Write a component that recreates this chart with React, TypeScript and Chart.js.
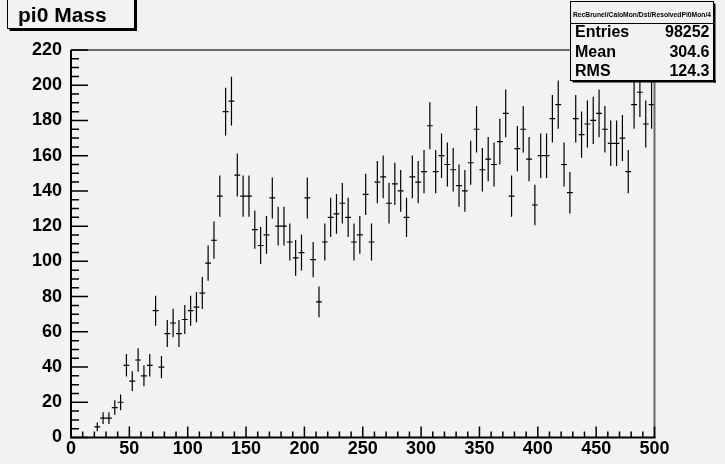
import React, { useEffect, useRef } from "react";
import { Chart, registerables } from "chart.js";

Chart.register(...registerables);

// Histogram "pi0 Mass": bin centres (bin width 5) and contents
const binWidth = 5;
const binCenters = [
  22.5, 27.5, 32.5, 37.5, 42.5, 47.5, 52.5, 57.5, 62.5, 67.5,
  72.5, 77.5, 82.5, 87.5, 92.5, 97.5, 102.5, 107.5, 112.5, 117.5,
  122.5, 127.5, 132.5, 137.5, 142.5, 147.5, 152.5, 157.5, 162.5, 167.5,
  172.5, 177.5, 182.5, 187.5, 192.5, 197.5, 202.5, 207.5, 212.5, 217.5,
  222.5, 227.5, 232.5, 237.5, 242.5, 247.5, 252.5, 257.5, 262.5, 267.5,
  272.5, 277.5, 282.5, 287.5, 292.5, 297.5, 302.5, 307.5, 312.5, 317.5,
  322.5, 327.5, 332.5, 337.5, 342.5, 347.5, 352.5, 357.5, 362.5, 367.5,
  372.5, 377.5, 382.5, 387.5, 392.5, 397.5, 402.5, 407.5, 412.5, 417.5,
  422.5, 427.5, 432.5, 437.5, 442.5, 447.5, 452.5, 457.5, 462.5, 467.5,
  472.5, 477.5, 482.5, 487.5, 492.5, 497.5,
];
const binContents = [
  6, 11, 11, 17, 20, 41, 32, 44, 35, 41,
  72, 40, 59, 65, 59, 67, 72, 74, 82, 99,
  112, 137, 185, 191, 149, 137, 137, 118, 109, 115,
  136, 120, 120, 111, 102, 105, 136, 101, 77, 111,
  125, 127, 133, 125, 111, 115, 138, 111, 145, 148,
  133, 144, 140, 125, 148, 145, 151, 177, 151, 160,
  155, 152, 143, 140, 156, 175, 152, 158, 155, 168,
  184, 137, 164, 175, 158, 132, 160, 160, 181, 189,
  155, 139, 181, 172, 178, 180, 184, 175, 167, 167,
  170, 151, 189, 196, 178, 189,
];

// Axis ranges and tick steps
const xMin = 0;
const xMax = 500;
const yMin = 0;
const yMax = 220;
const xMajorStep = 50;
const xMinorStep = 10;
const yMajorStep = 20;
const yMinorStep = 5;

// Title and statistics box contents
const histTitle = "pi0 Mass";
const statsHeader = "RecBrunel/CaloMon/Dst/ResolvedPi0Mon/4";
const statsLabels = ["Entries", "Mean", "RMS"];
const statsValues = ["98252", "304.6", "124.3"];

const BG = "#f2f2f2";
const FONT = "'Liberation Sans', Arial, Helvetica, sans-serif";

const rootStylePlugin = {
  id: "rootStyle",
  afterDatasetsDraw(chart: any) {
    const { ctx, chartArea, scales } = chart;
    const xs = scales.x;
    const ys = scales.y;
    const { left, right, top, bottom } = chartArea;

    ctx.save();

    // error crosses: horizontal bar spans the bin, vertical bar is sqrt(N)
    ctx.strokeStyle = "#000";
    ctx.lineWidth = 1.2;
    ctx.beginPath();
    binCenters.forEach((xc, i) => {
      const n = binContents[i];
      const err = Math.sqrt(n);
      const px = xs.getPixelForValue(xc);
      const pxL = xs.getPixelForValue(xc - binWidth / 2);
      const pxR = xs.getPixelForValue(xc + binWidth / 2);
      const py = ys.getPixelForValue(n);
      const pyT = Math.max(ys.getPixelForValue(n + err), top);
      const pyB = ys.getPixelForValue(n - err);
      ctx.moveTo(pxL, py);
      ctx.lineTo(pxR, py);
      ctx.moveTo(px, pyT);
      ctx.lineTo(px, pyB);
    });
    ctx.stroke();

    // frame: top and right in grey
    ctx.strokeStyle = "#6a6a6a";
    ctx.lineWidth = 2;
    ctx.beginPath();
    ctx.moveTo(left, top);
    ctx.lineTo(right, top);
    ctx.lineTo(right, bottom);
    ctx.stroke();

    // axes: left and bottom in black
    ctx.strokeStyle = "#000";
    ctx.lineWidth = 2;
    ctx.beginPath();
    ctx.moveTo(left, top);
    ctx.lineTo(left, bottom);
    ctx.lineTo(right + 1, bottom);
    ctx.stroke();

    // ticks pointing inwards
    ctx.lineWidth = 1.5;
    ctx.beginPath();
    for (let v = xMin; v <= xMax; v += xMinorStep) {
      const px = xs.getPixelForValue(v);
      const len = v % xMajorStep === 0 ? 11 : 6;
      ctx.moveTo(px, bottom);
      ctx.lineTo(px, bottom - len);
    }
    for (let v = yMin; v <= yMax; v += yMinorStep) {
      const py = ys.getPixelForValue(v);
      const len = v % yMajorStep === 0 ? 17 : 8;
      ctx.moveTo(left, py);
      ctx.lineTo(left + len, py);
    }
    ctx.stroke();

    ctx.restore();
  },
  afterDraw(chart: any) {
    const { ctx } = chart;
    ctx.save();

    // title box
    const tL = 7.5, tR = 134.5, tT = -2, tB = 28.5;
    ctx.fillStyle = BG;
    ctx.fillRect(tL, tT, tR - tL, tB - tT);
    ctx.strokeStyle = "#000";
    ctx.lineWidth = 1;
    ctx.strokeRect(tL, tT, tR - tL, tB - tT);
    ctx.fillStyle = "#000";
    ctx.fillRect(tR, tT + 2, 2.5, tB - tT);
    ctx.fillRect(tL + 2, tB, tR - tL + 0.5, 2.5);
    ctx.font = `bold 21px ${FONT}`;
    ctx.textAlign = "left";
    ctx.textBaseline = "alphabetic";
    ctx.fillText(histTitle, 18, 22);

    // statistics box
    const sL = 570.5, sR = 713.5, sT = 1.5, sB = 80.5;
    ctx.fillStyle = BG;
    ctx.fillRect(sL, sT, sR - sL, sB - sT);
    ctx.strokeStyle = "#000";
    ctx.lineWidth = 1;
    ctx.strokeRect(sL, sT, sR - sL, sB - sT);
    ctx.fillStyle = "#000";
    ctx.fillRect(sR, sT + 2, 2, sB - sT);
    ctx.fillRect(sL + 2, sB, sR - sL + 0.5, 2);
    ctx.beginPath();
    ctx.moveTo(sL, 23.5);
    ctx.lineTo(sR, 23.5);
    ctx.stroke();

    ctx.font = `bold 7.5px ${FONT}`;
    ctx.textAlign = "center";
    ctx.fillText(statsHeader, (sL + sR) / 2, 16.5, 138);

    ctx.font = `bold 16px ${FONT}`;
    const baselines = [37.3, 56.7, 76.3];
    statsLabels.forEach((lab, i) => {
      ctx.textAlign = "left";
      ctx.fillText(lab, 575, baselines[i]);
      ctx.textAlign = "right";
      ctx.fillText(statsValues[i], 709.5, baselines[i]);
    });

    ctx.restore();
  },
};

export default function App() {
  const canvasRef = useRef<HTMLCanvasElement | null>(null);

  useEffect(() => {
    const canvas = canvasRef.current;
    if (!canvas) return;
    const chart = new Chart(canvas, {
      type: "scatter",
      data: {
        datasets: [
          {
            label: histTitle,
            data: binCenters.map((x, i) => ({ x, y: binContents[i] })),
            pointRadius: 0,
            pointHoverRadius: 0,
            showLine: false,
          },
        ],
      },
      options: {
        responsive: false,
        animation: false,
        events: [],
        layout: { padding: { top: 50, right: 70.5, left: 0, bottom: 0 } },
        plugins: {
          legend: { display: false },
          tooltip: { enabled: false },
          title: { display: false },
        },
        scales: {
          x: {
            type: "linear",
            position: "bottom",
            min: xMin,
            max: xMax,
            grid: { display: false, drawTicks: false },
            border: { display: false },
            ticks: {
              stepSize: xMajorStep,
              padding: 1,
              color: "#000",
              maxRotation: 0,
              autoSkip: false,
              font: { family: FONT, size: 18, weight: "bold" },
            },
            afterFit(scale: any) {
              scale.height = 26.5;
            },
          },
          y: {
            type: "linear",
            position: "left",
            min: yMin,
            max: yMax,
            grid: { display: false, drawTicks: false },
            border: { display: false },
            ticks: {
              stepSize: yMajorStep,
              padding: 9,
              color: "#000",
              autoSkip: false,
              font: { family: FONT, size: 18, weight: "bold" },
            },
            afterFit(scale: any) {
              scale.width = 71;
            },
          },
        },
      },
      plugins: [rootStylePlugin],
    });
    return () => chart.destroy();
  }, []);

  return (
    <div
      style={{
        position: "fixed",
        left: 0,
        top: 0,
        width: 725,
        height: 464,
        background: BG,
        overflow: "hidden",
      }}
    >
      <canvas
        ref={canvasRef}
        width={725}
        height={464}
        style={{ display: "block", width: 725, height: 464 }}
      />
    </div>
  );
}
